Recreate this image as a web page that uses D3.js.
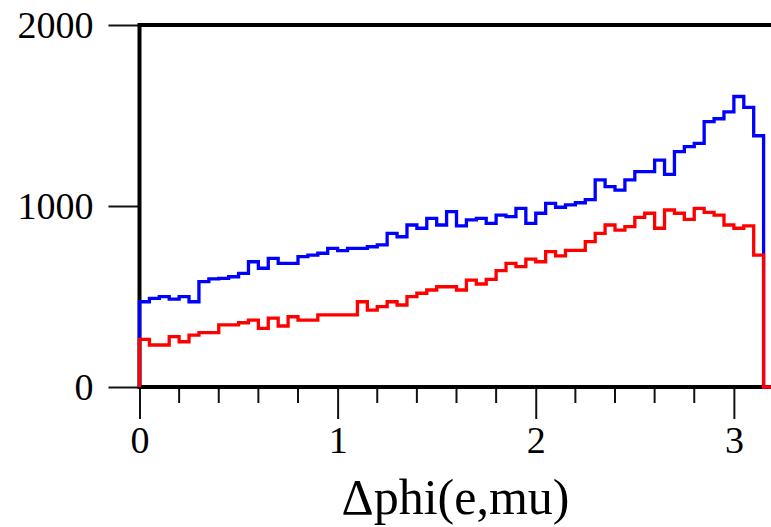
<!DOCTYPE html>
<html>
<head>
<meta charset="utf-8">
<script src="https://cdn.jsdelivr.net/npm/d3@7"></script>
<style>
  html, body { margin: 0; padding: 0; background: #fff; }
  svg { display: block; }
  text { font-family: "Liberation Serif", "Times New Roman", serif; fill: #000; }
</style>
</head>
<body>
<svg id="chart" width="771" height="527"></svg>
<script>
// Histogram of delta-phi(e,mu), bins of width 0.05 starting at 0
const binStart = 0;
const binWidth = 0.05;
const blueCounts = [
  471, 490, 499, 486, 499, 471, 582, 597, 600, 609,
  628, 692, 656, 711, 683, 683, 720, 729, 739, 766,
  753, 766, 766, 775, 785, 849, 830, 895, 877, 932,
  895, 969, 890, 923, 932, 904, 950, 941, 987, 904,
  960, 1015, 993, 1006, 1018, 1035, 1144, 1107, 1088, 1144,
  1190, 1190, 1254, 1175, 1300, 1328, 1346, 1466, 1482, 1520,
  1605, 1545, 1388, 0
];
const redCounts = [
  263, 232, 232, 278, 250, 287, 300, 300, 343, 343,
  355, 370, 324, 380, 337, 388, 370, 370, 398, 398,
  398, 398, 471, 425, 444, 471, 453, 499, 518, 536,
  554, 554, 536, 591, 569, 595, 643, 683, 665, 706,
  692, 748, 724, 755, 755, 803, 849, 895, 867, 886,
  937, 960, 877, 978, 960, 926, 987, 965, 950, 895,
  877, 890, 729, 0
];
const xMajorTicks = [0, 1, 2, 3];
const xMinorTicks = [0.2, 0.4, 0.6, 0.8, 1.2, 1.4, 1.6, 1.8, 2.2, 2.4, 2.6, 2.8, 3.2];
const yTicks = [0, 1000, 2000];
const xDomain = [0, 3.2];
const yDomain = [0, 2000];
const xTitle = "\u0394phi(e,mu)";

const svg = d3.select("#chart");
const padL = 139.5, padR = 773.5, padT = 25, padB = 387;
const x = d3.scaleLinear().domain(xDomain).range([padL, padR]);
const y = d3.scaleLinear().domain(yDomain).range([padB, padT]);

// minor x ticks
svg.append("g").selectAll("line").data(xMinorTicks).join("line")
  .attr("x1", d => x(d)).attr("x2", d => x(d))
  .attr("y1", padB).attr("y2", padB + 16)
  .attr("stroke", "#111").attr("stroke-width", 2);

// major x axis
const xAxis = d3.axisBottom(x).tickValues(xMajorTicks).tickSize(32).tickPadding(8)
  .tickFormat(d3.format("d"));
const gx = svg.append("g").attr("transform", `translate(0,${padB})`).call(xAxis);
gx.select(".domain").remove();
gx.selectAll(".tick line").attr("stroke", "#111").attr("stroke-width", 2);
gx.selectAll(".tick text").attr("font-size", 38).attr("font-family", "Liberation Serif")
  .attr("fill", "#000").attr("y", 66).attr("dy", null);

// y axis
const yAxis = d3.axisLeft(y).tickValues(yTicks).tickSize(31).tickPadding(15)
  .tickFormat(d3.format("d"));
const gy = svg.append("g").attr("transform", `translate(${padL},0)`).call(yAxis);
gy.select(".domain").remove();
gy.selectAll(".tick line").attr("stroke", "#111").attr("stroke-width", 2);
gy.selectAll(".tick text").attr("font-size", 38).attr("font-family", "Liberation Serif")
  .attr("fill", "#000").attr("dy", "0.33em");

// frame
svg.append("line").attr("x1", padL).attr("x2", padR + 2).attr("y1", padT).attr("y2", padT)
  .attr("stroke", "#000").attr("stroke-width", 4);
svg.append("line").attr("x1", padL).attr("x2", padR + 2).attr("y1", padB).attr("y2", padB)
  .attr("stroke", "#000").attr("stroke-width", 4);
svg.append("line").attr("x1", padL).attr("x2", padL).attr("y1", padT - 2).attr("y2", padB + 2)
  .attr("stroke", "#000").attr("stroke-width", 4);
svg.append("line").attr("x1", padR).attr("x2", padR).attr("y1", padT - 2).attr("y2", padB + 2)
  .attr("stroke", "#000").attr("stroke-width", 4);

// step histograms
function stepPoints(counts) {
  const pts = [[x(binStart), y(0)]];
  counts.forEach((c, i) => {
    const x0 = binStart + i * binWidth, x1 = binStart + (i + 1) * binWidth;
    pts.push([x(x0), y(c)], [x(x1), y(c)]);
  });
  pts.push([x(binStart + counts.length * binWidth), y(0)]);
  return pts;
}
const line = d3.line();
svg.append("path").attr("d", line(stepPoints(blueCounts)))
  .attr("fill", "none").attr("stroke", "#0000ff").attr("stroke-width", 3.3)
  .attr("stroke-linejoin", "miter");
svg.append("path").attr("d", line(stepPoints(redCounts)))
  .attr("fill", "none").attr("stroke", "#ff0000").attr("stroke-width", 3.3)
  .attr("stroke-linejoin", "miter");

// axis title
svg.append("text").attr("x", (padL + padR) / 2 - 1).attr("y", 514)
  .attr("text-anchor", "middle").attr("font-size", 50).text(xTitle);
</script>
</body>
</html>
